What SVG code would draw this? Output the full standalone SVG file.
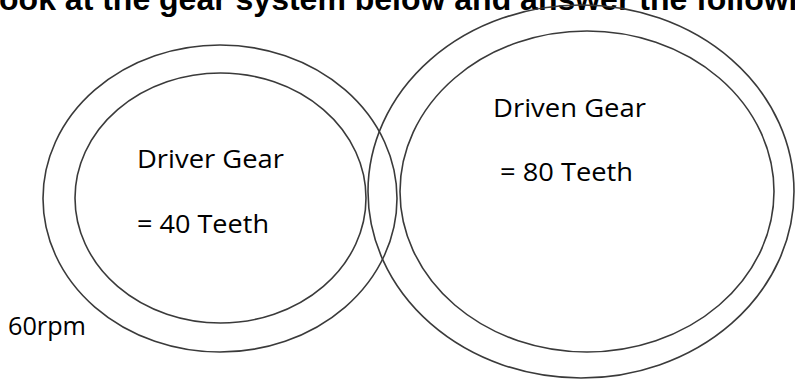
<svg xmlns="http://www.w3.org/2000/svg" width="795" height="381" viewBox="0 0 795 381">
<style>
.ring{fill:none;stroke:#3a3a3a;stroke-width:1.6}
.lbl{font-family:"Open Sans","Noto Sans",sans-serif;font-size:26px;fill:#000}
.title{font-family:"Liberation Sans",Arial,sans-serif;font-weight:bold;font-size:32px;fill:#000}
</style>
<rect width="795" height="381" fill="#fff"/>
<text class="title" x="-20.5" y="10">Look at the gear system below and answer the following</text>
<g id="driver-gear">
<ellipse class="ring" cx="220" cy="198.5" rx="177" ry="153.5"/>
<ellipse class="ring" cx="220.5" cy="198" rx="145.5" ry="125"/>
<text class="lbl" x="137" y="168" textLength="147" lengthAdjust="spacingAndGlyphs">Driver Gear</text>
<text class="lbl" x="137" y="233" textLength="132" lengthAdjust="spacingAndGlyphs">= 40 Teeth</text>
</g>
<g id="driven-gear">
<ellipse class="ring" cx="581" cy="191.5" rx="213" ry="186.5"/>
<ellipse class="ring" cx="587" cy="191.5" rx="187" ry="160.5"/>
<text class="lbl" x="493" y="117" textLength="153" lengthAdjust="spacingAndGlyphs">Driven Gear</text>
<text class="lbl" x="500" y="181" textLength="133" lengthAdjust="spacingAndGlyphs">= 80 Teeth</text>
</g>
<g id="speed">
<text class="lbl" x="8" y="335" textLength="78" lengthAdjust="spacingAndGlyphs">60rpm</text>
</g>
<g id="connectors"/>
</svg>
